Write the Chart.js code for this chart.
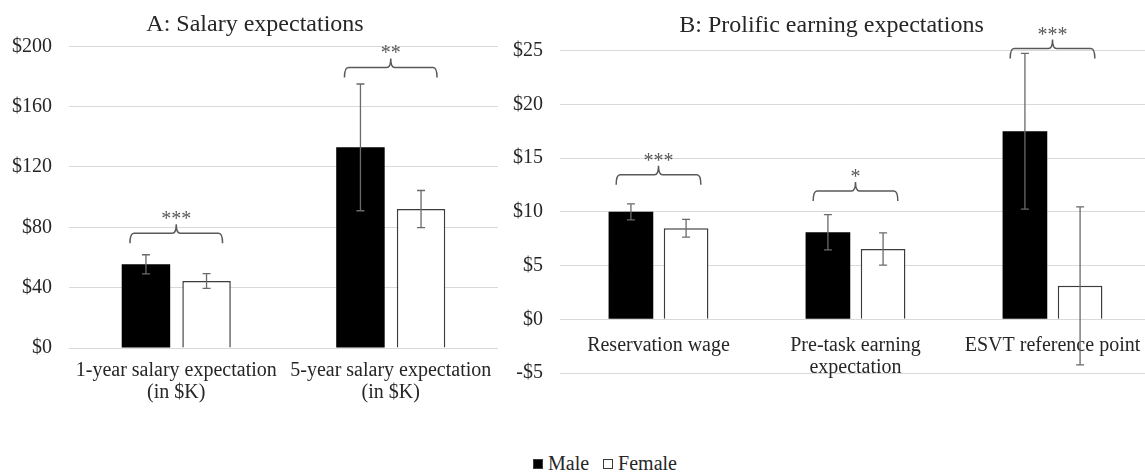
<!DOCTYPE html>
<html>
<head>
<meta charset="utf-8">
<script src="https://cdn.jsdelivr.net/npm/chart.js@4"></script>
<style>
  html, body { margin: 0; padding: 0; background: #fff; }
  body { width: 1145px; height: 475px; overflow: hidden; position: relative; font-family: "Liberation Serif", "Times New Roman", serif; }
  #chartA { position: absolute; left: 0; top: 0; }
  #chartB { position: absolute; left: 505px; top: 0; }
  #legend { position: absolute; left: 533px; top: 452px; font-size: 20px; color: #262626; white-space: nowrap; }
  #legend .item { display: inline-block; margin-right: 14px; }
  #legend .box { display: inline-block; width: 10px; height: 10px; box-sizing: border-box; margin-right: 5px; vertical-align: 1px; }
</style>
</head>
<body>
<canvas id="chartA" width="505" height="416"></canvas>
<canvas id="chartB" width="652" height="401"></canvas>
<div id="legend"></div>
<script>
// series
const seriesNames = ["Male", "Female"];
const seriesFill = ["#000000", "#ffffff"];

// panel A: salary expectations (in $K)
const salaryCategories = [["1-year salary expectation", "(in $K)"], ["5-year salary expectation", "(in $K)"]];
const salaryMale = [55.5, 133.0];
const salaryMaleErr = [6.3, 42.0];
const salaryFemale = [44.4, 92.1];
const salaryFemaleErr = [4.9, 12.3];
const salaryTicks = [0, 40, 80, 120, 160, 200];
const salarySigLevel = [76, 186];
const salarySigLabel = ["***", "**"];

// panel B: Prolific earning expectations
const prolificCategories = ["Reservation wage", ["Pre-task earning", "expectation"], "ESVT reference point"];
const prolificMale = [10.0, 8.1, 17.5];
const prolificMaleErr = [0.75, 1.64, 7.25];
const prolificFemale = [8.47, 6.54, 3.11];
const prolificFemaleErr = [0.83, 1.5, 7.35];
const prolificTicks = [-5, 0, 5, 10, 15, 20, 25];
const prolificSigLevel = [13.45, 11.95, 25.2];
const prolificSigLabel = ["***", "*", "***"];

const serif = "'Liberation Serif', 'Times New Roman', serif";
const textColor = "#262626";
const gridColor = "#d9d9d9";
const markColor = "#595959";

const errorBarPlugin = {
  id: "errorBars",
  afterDatasetsDraw(chart) {
    const ctx = chart.ctx;
    const yScale = chart.scales.y;
    chart.data.datasets.forEach((ds, i) => {
      chart.getDatasetMeta(i).data.forEach((bar, j) => {
        const top = yScale.getPixelForValue(ds.data[j] + ds.errors[j]);
        const bot = yScale.getPixelForValue(ds.data[j] - ds.errors[j]);
        ctx.save();
        ctx.strokeStyle = "#6a6a6a";
        ctx.lineWidth = 1.3;
        ctx.beginPath();
        ctx.moveTo(bar.x, top);
        ctx.lineTo(bar.x, bot);
        ctx.moveTo(bar.x - 4, top);
        ctx.lineTo(bar.x + 4, top);
        ctx.moveTo(bar.x - 4, bot);
        ctx.lineTo(bar.x + 4, bot);
        ctx.stroke();
        ctx.restore();
      });
    });
  },
};

// curly bracket with stars above each pair of bars
const bracketPlugin = {
  id: "brackets",
  afterDatasetsDraw(chart, args, opts) {
    const ctx = chart.ctx;
    const yScale = chart.scales.y;
    const males = chart.getDatasetMeta(0).data;
    const females = chart.getDatasetMeta(1).data;
    opts.levels.forEach((level, i) => {
      const w = males[i].width;
      const x1 = males[i].x - w * 0.33;
      const x2 = females[i].x + w * 0.33;
      const xm = (x1 + x2) / 2;
      const y = yScale.getPixelForValue(level);
      ctx.save();
      ctx.strokeStyle = markColor;
      ctx.lineWidth = 1.5;
      ctx.beginPath();
      ctx.moveTo(x1, y + 10);
      ctx.quadraticCurveTo(x1, y, x1 + 4, y);
      ctx.lineTo(xm - 4, y);
      ctx.quadraticCurveTo(xm, y, xm, y - 9);
      ctx.quadraticCurveTo(xm, y, xm + 4, y);
      ctx.lineTo(x2 - 4, y);
      ctx.quadraticCurveTo(x2, y, x2, y + 10);
      ctx.stroke();
      ctx.fillStyle = markColor;
      ctx.font = "20px " + serif;
      ctx.textAlign = "center";
      ctx.textBaseline = "alphabetic";
      ctx.fillText(opts.labels[i], xm, y - 8);
      ctx.restore();
    });
  },
};

function makeDatasets(male, maleErr, female, femaleErr) {
  return [
    { label: seriesNames[0], data: male, errors: maleErr, backgroundColor: seriesFill[0], borderWidth: 0 },
    { label: seriesNames[1], data: female, errors: femaleErr, backgroundColor: seriesFill[1], borderColor: "#3c3c3c", borderWidth: 1.5 },
  ];
}

const tickFont = { family: serif, size: 20, lineHeight: 1.1 };
// keep the plot area where Excel puts it, labels may overhang
const noSidePadding = (axis) => { axis.paddingLeft = 0; axis.paddingRight = 0; };

const chartA = new Chart(document.getElementById("chartA"), {
  type: "bar",
  data: {
    labels: salaryCategories,
    datasets: makeDatasets(salaryMale, salaryMaleErr, salaryFemale, salaryFemaleErr),
  },
  options: {
    responsive: false,
    animation: false,
    datasets: { bar: { categoryPercentage: 0.565, barPercentage: 0.8 } },
    layout: { padding: { left: 12, right: 7, top: 0, bottom: 8 } },
    plugins: {
      legend: { display: false },
      tooltip: { enabled: false },
      title: {
        display: true,
        text: "A: Salary expectations",
        color: textColor,
        font: { family: serif, size: 24, weight: "normal", lineHeight: 1.2 },
        padding: { top: 10, bottom: 7.5 },
      },
      brackets: { levels: salarySigLevel, labels: salarySigLabel },
    },
    scales: {
      x: {
        grid: { display: false },
        border: { display: false },
        afterFit: noSidePadding,
        ticks: { color: textColor, font: tickFont, padding: 4, maxRotation: 0, autoSkip: false },
      },
      y: {
        min: salaryTicks[0],
        max: salaryTicks[salaryTicks.length - 1],
        afterBuildTicks: (axis) => { axis.ticks = salaryTicks.map((v) => ({ value: v })); },
        afterFit: (axis) => { axis.width = 57; },
        grid: { color: gridColor, drawTicks: false },
        border: { display: false },
        ticks: { color: textColor, font: tickFont, padding: 17, callback: (v) => "$" + v },
      },
    },
  },
  plugins: [errorBarPlugin, bracketPlugin],
});

const chartB = new Chart(document.getElementById("chartB"), {
  type: "bar",
  data: {
    labels: prolificCategories,
    datasets: makeDatasets(prolificMale, prolificMaleErr, prolificFemale, prolificFemaleErr),
  },
  options: {
    responsive: false,
    animation: false,
    datasets: { bar: { categoryPercentage: 0.56, barPercentage: 0.81 } },
    layout: { padding: { left: 7, right: 6, top: 0, bottom: 0 } },
    plugins: {
      legend: { display: false },
      tooltip: { enabled: false },
      title: {
        display: true,
        text: "B: Prolific earning expectations",
        color: textColor,
        font: { family: serif, size: 24, weight: "normal", lineHeight: 1.2 },
        padding: { top: 11, bottom: 10.9 },
      },
      brackets: { levels: prolificSigLevel, labels: prolificSigLabel },
    },
    scales: {
      x: {
        position: { y: 0 },
        grid: { display: false },
        border: { display: false },
        afterFit: noSidePadding,
        ticks: { color: textColor, font: tickFont, padding: 7, maxRotation: 0, autoSkip: false },
      },
      y: {
        min: prolificTicks[0],
        max: prolificTicks[prolificTicks.length - 1],
        afterBuildTicks: (axis) => { axis.ticks = prolificTicks.map((v) => ({ value: v })); },
        afterFit: (axis) => { axis.width = 48; },
        grid: { color: gridColor, drawTicks: false },
        border: { display: false },
        ticks: { color: textColor, font: tickFont, padding: 17, callback: (v) => (v < 0 ? "-$" : "$") + Math.abs(v) },
      },
    },
  },
  plugins: [errorBarPlugin, bracketPlugin],
});

// legend shared by both panels
document.getElementById("legend").innerHTML = seriesNames
  .map((name, i) => `<span class="item"><span class="box" style="background:${seriesFill[i]};border:1px solid #3c3c3c"></span>${name}</span>`)
  .join("");
</script>
</body>
</html>
